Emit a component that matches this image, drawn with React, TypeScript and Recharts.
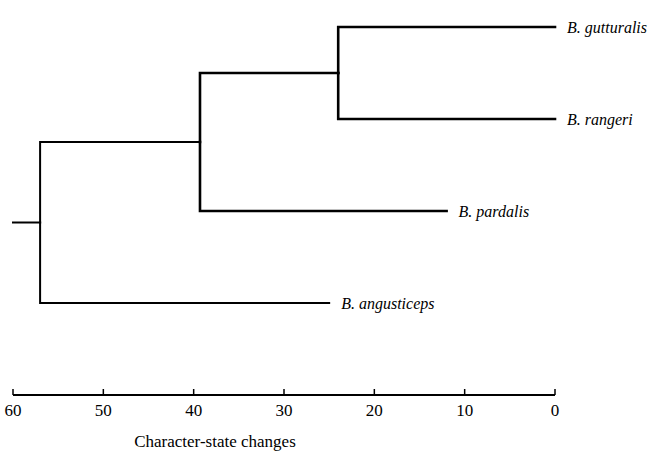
import { LineChart, Line, XAxis, YAxis, LabelList } from "recharts";

// tips, top to bottom
const taxa = ["B. gutturalis", "B. rangeri", "B. pardalis", "B. angusticeps"];
const tipChanges = [0, 0, 12, 25];

// internal nodes: character-state changes and their two children
// children refer to taxa index (t0..) or node index (n0..)
const nodeNames = ["n0", "n1", "n2"];
const nodeChanges = [24, 39.3, 57];
const nodeChildren = [
  ["t0", "t1"],
  ["n0", "t2"],
  ["n1", "t3"],
];
const rootStart = 60;
const xTicks = [60, 50, 40, 30, 20, 10, 0];

type Pt = { x: number; y: number };

function position(id: string): Pt {
  const i = Number(id.slice(1));
  if (id.startsWith("t")) return { x: tipChanges[i], y: i };
  const [a, b] = nodeChildren[i].map(position);
  return { x: nodeChanges[i], y: (a.y + b.y) / 2 };
}

const branches: { key: string; data: Pt[]; width: number }[] = [];
nodeNames.forEach((name, i) => {
  const p = position(name);
  nodeChildren[i].forEach((child) => {
    const c = position(child);
    branches.push({
      key: `${name}-${child}`,
      data: [
        { x: p.x, y: p.y },
        { x: p.x, y: c.y },
        { x: c.x, y: c.y },
      ],
      width: name === "n2" ? 2 : 2.6,
    });
  });
});
const rootPos = position(nodeNames[nodeNames.length - 1]);
branches.push({
  key: "stub",
  data: [
    { x: rootStart, y: rootPos.y },
    { x: rootPos.x, y: rootPos.y },
  ],
  width: 2,
});

const tipPoints = taxa.map((name, i) => ({ x: tipChanges[i], y: i, name }));

const FONT = "'Liberation Serif', 'DejaVu Serif', serif";

function Tick({ x, y, payload }: any) {
  return (
    <g>
      <line x1={x} x2={x} y1={y - 6} y2={y} stroke="#000" strokeWidth={1.5} />
      <text x={x} y={y + 21} textAnchor="middle" fontSize={17} fontFamily={FONT} fill="#000">
        {payload.value}
      </text>
    </g>
  );
}

export default function App() {
  return (
    <div style={{ position: "absolute", left: 0, top: 0, background: "#fff" }}>
      <LineChart width={662} height={454} margin={{ top: 27, right: 107, left: 13, bottom: 0 }}>
        <XAxis
          type="number"
          dataKey="x"
          domain={[0, 60]}
          reversed
          ticks={xTicks}
          interval={0}
          height={59}
          tickSize={0}
          tickMargin={0}
          tick={<Tick />}
          axisLine={{ stroke: "#000", strokeWidth: 2 }}
          label={({ viewBox }: any) => (
            <text
              x={viewBox.x + 202}
              y={viewBox.y + 52}
              textAnchor="middle"
              fontSize={17}
              fontFamily={FONT}
              fill="#000"
            >
              Character-state changes
            </text>
          )}
        />
        <YAxis type="number" dataKey="y" domain={[0, 4]} reversed hide />
        {branches.map((b) => (
          <Line
            key={b.key}
            data={b.data}
            dataKey="y"
            type="linear"
            stroke="#000"
            strokeWidth={b.width}
            dot={false}
            activeDot={false}
            isAnimationActive={false}
            strokeLinecap="square"
            strokeLinejoin="miter"
          />
        ))}
        <Line
          data={tipPoints}
          dataKey="y"
          stroke="none"
          dot={false}
          activeDot={false}
          isAnimationActive={false}
        >
          <LabelList
            dataKey="name"
            position="right"
            offset={12}
            fontSize={16}
            fontStyle="italic"
            fontFamily={FONT}
            fill="#000"
          />
        </Line>
      </LineChart>
    </div>
  );
}
